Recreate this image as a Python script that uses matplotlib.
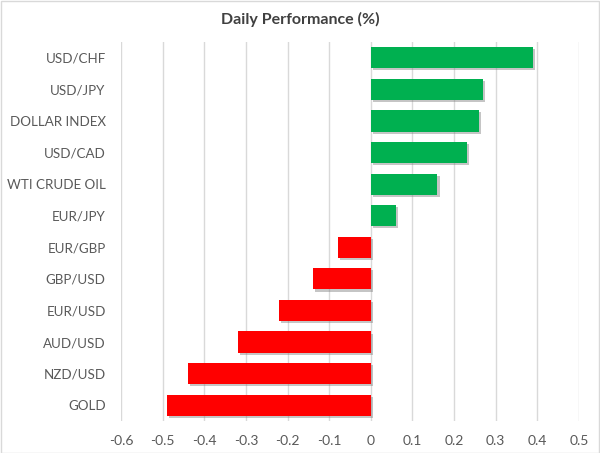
import matplotlib
matplotlib.use("Agg")
import matplotlib.pyplot as plt
import matplotlib.patheffects as pe
import numpy as np

# Данные (сверху вниз)
labels = ["USD/CHF", "USD/JPY", "DOLLAR INDEX", "USD/CAD", "WTI CRUDE OIL", "EUR/JPY",
          "EUR/GBP", "GBP/USD", "EUR/USD", "AUD/USD", "NZD/USD", "GOLD"]
values = [0.39, 0.27, 0.26, 0.23, 0.16, 0.06,
          -0.08, -0.14, -0.22, -0.32, -0.44, -0.49]
xticks = [-0.6, -0.5, -0.4, -0.3, -0.2, -0.1, 0, 0.1, 0.2, 0.3, 0.4, 0.5]
xtick_labels = ["-0.6", "-0.5", "-0.4", "-0.3", "-0.2", "-0.1", "0",
                "0.1", "0.2", "0.3", "0.4", "0.5"]

plt.rcParams['font.family'] = ['Lato', 'DejaVu Sans']
text_color = '#595959'

fig = plt.figure(figsize=(6, 4.53), dpi=100)
ax = fig.add_axes([0.2017, 0.0706, 0.7633, 0.8366])

y = np.arange(len(labels))
colors = ['#00B050' if v >= 0 else '#FF0000' for v in values]
bars = ax.barh(y, values, height=0.67, color=colors, zorder=3)
for b in bars:
    b.set_path_effects([pe.SimplePatchShadow(offset=(1.5, -1.5), shadow_rgbFace='#808080', alpha=0.45),
                        pe.Normal()])

ax.set_ylim(len(labels) - 0.5, -0.5)
ax.set_xlim(-0.6, 0.5)
ax.set_yticks(y)
ax.set_yticklabels(labels, fontsize=9.6, color=text_color)
ax.set_xticks(xticks)
ax.set_xticklabels(xtick_labels, fontsize=10, color=text_color)
ax.tick_params(axis='both', length=0)
ax.tick_params(axis='y', pad=11)
ax.tick_params(axis='x', pad=10)
ax.grid(axis='x', color='#D9D9D9', linewidth=1, zorder=0)
for s in ax.spines.values():
    s.set_visible(False)

fig.text(0.5, 0.958, "Daily Performance (%)", ha='center', va='center',
         fontsize=11.5, fontweight='bold', color='#404040')

# рамка вокруг рисунка
fig.patches.append(plt.Rectangle((0.001, 0.001), 0.997, 0.997, transform=fig.transFigure,
                                 fill=False, edgecolor='#D9D9D9', linewidth=1))

fig.savefig("out.png", dpi=100)
